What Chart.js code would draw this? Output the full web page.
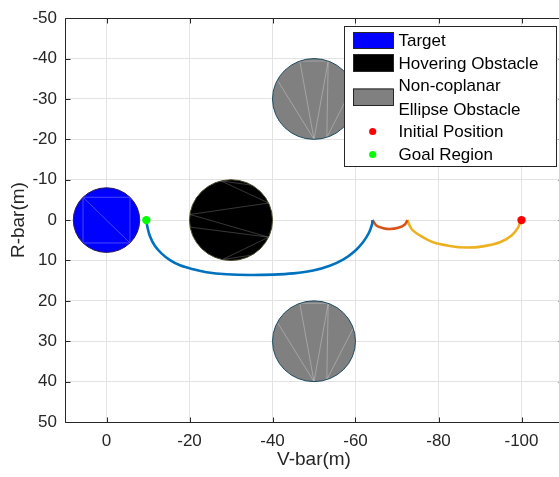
<!DOCTYPE html>
<html><head><meta charset="utf-8">
<script src="https://cdn.jsdelivr.net/npm/chart.js@4.4.0/dist/chart.umd.min.js"></script>
<style>
html,body{margin:0;padding:0;overflow:hidden;background:#fff;width:559px;height:477px}
canvas{display:block}
</style></head>
<body><canvas id="c" width="570" height="477"></canvas>
<script>
// ---------- data ----------
const xTicks = [0, -20, -40, -60, -80, -100];
const yTicks = [-50, -40, -30, -20, -10, 0, 10, 20, 30, 40, 50];

const obstacleNames = ['Target', 'Hovering Obstacle', 'Non-coplanar Ellipse Obstacle', 'Non-coplanar Ellipse Obstacle'];
const obstacleX = [0, -30, -50, -50];
const obstacleY = [0, 0, -30, 30];
const obstacleR = [8, 10, 10, 10];

const leg1X = [-9.6, -9.8, -10.4, -11.6, -13.3, -15.3, -17.7, -20.9, -24.1, -28.9, -34.5, -40.1, -45.0, -49.8, -53.8, -57.0, -59.8, -61.8, -63.3, -64.0, -64.1];
const leg1Y = [0.0, 1.4, 3.8, 6.3, 8.3, 9.9, 11.2, 12.2, 12.9, 13.4, 13.6, 13.5, 13.2, 12.5, 11.3, 9.8, 7.7, 5.5, 3.0, 1.0, 0.0];

const leg2X = [-64.1, -65.1, -66.7, -68.3, -70.3, -71.9, -72.5];
const leg2Y = [0.0, 1.4, 2.0, 2.2, 1.9, 1.1, 0.0];

const leg3X = [-72.5, -73.5, -75.5, -78.7, -82.7, -86.7, -90.7, -94.8, -97.6, -99.2, -99.8];
const leg3Y = [0.0, 2.2, 3.8, 5.5, 6.4, 6.8, 6.5, 5.5, 3.8, 1.8, 0.0];

const initialPos = [-100, 0];
const goalPos = [-9.6, 0];

const legendLabels = ['Target', 'Hovering Obstacle', ['Non-coplanar', 'Ellipse Obstacle'], 'Initial Position', 'Goal Region'];

// ---------- styles ----------
const FONT = '"Liberation Sans", Arial, Helvetica, sans-serif';
const TXT = '#262626';
const obsStyle = [
  {fill: '#0000ff', edge: '#2a1a5a', mesh: 'rgba(200,200,255,0.45)', chords: [[135,45],[45,315],[315,225],[225,135],[135,315]]},
  {fill: '#000000', edge: '#4a4a2a', mesh: 'rgba(200,200,200,0.35)', chords: [[104,25],[25,172],[172,335],[190,335],[335,258],[258,300],[104,60]]},
  {fill: '#808080', edge: '#1f4a60', mesh: 'rgba(230,230,230,0.45)', chords: [[110,70],[110,270],[70,270],[152,270],[70,288],[19,288]]},
  {fill: '#808080', edge: '#1f4a60', mesh: 'rgba(230,230,230,0.45)', chords: [[110,70],[110,270],[70,270],[152,270],[70,288],[19,288]]}
];

const toPts = (xs, ys) => xs.map((v, i) => ({x: v, y: ys[i]}));

const obstaclePlugin = {
  id: 'obstacles',
  beforeDatasetsDraw(chart) {
    const {ctx, scales: {x, y}, chartArea: a} = chart;
    ctx.save();
    ctx.beginPath(); ctx.rect(a.left, a.top, a.right - a.left, a.bottom - a.top); ctx.clip();
    for (let i = 0; i < obstacleX.length; i++) {
      const s = obsStyle[i];
      const cx = x.getPixelForValue(obstacleX[i]);
      const cy = y.getPixelForValue(obstacleY[i]);
      const rx = Math.abs(x.getPixelForValue(obstacleX[i] + obstacleR[i]) - cx);
      const ry = Math.abs(y.getPixelForValue(obstacleY[i] + obstacleR[i]) - cy);
      ctx.beginPath(); ctx.ellipse(cx, cy, rx, ry, 0, 0, Math.PI * 2);
      ctx.fillStyle = s.fill; ctx.fill();
      ctx.strokeStyle = s.mesh; ctx.lineWidth = 0.8;
      s.chords.forEach(([a1, a2]) => {
        const t1 = a1 * Math.PI / 180, t2 = a2 * Math.PI / 180;
        ctx.beginPath();
        ctx.moveTo(cx + rx * Math.cos(t1), cy - ry * Math.sin(t1));
        ctx.lineTo(cx + rx * Math.cos(t2), cy - ry * Math.sin(t2));
        ctx.stroke();
      });
      ctx.beginPath(); ctx.ellipse(cx, cy, rx, ry, 0, 0, Math.PI * 2);
      ctx.strokeStyle = s.edge; ctx.lineWidth = 1; ctx.stroke();
    }
    ctx.restore();
  }
};

const framePlugin = {
  id: 'frame',
  afterDraw(chart) {
    const {ctx, scales: {x, y}, chartArea: a} = chart;
    const L = Math.round(a.left) + 0.5, R = Math.round(a.right) + 0.5;
    const T = Math.round(a.top) + 0.5, B = Math.round(a.bottom) + 0.5;
    ctx.save();
    ctx.strokeStyle = TXT; ctx.lineWidth = 1;
    ctx.beginPath(); ctx.rect(L, T, R - L, B - T); ctx.stroke();
    const tl = 5;
    ctx.beginPath();
    xTicks.forEach(v => {
      const px = Math.round(x.getPixelForValue(v)) + 0.5;
      ctx.moveTo(px, B); ctx.lineTo(px, B - tl);
      ctx.moveTo(px, T); ctx.lineTo(px, T + tl);
    });
    yTicks.forEach(v => {
      const py = Math.round(y.getPixelForValue(v)) + 0.5;
      ctx.moveTo(L, py); ctx.lineTo(L + tl, py);
      ctx.moveTo(R, py); ctx.lineTo(R - tl, py);
    });
    ctx.stroke();

    // legend
    const lx = 344.5, ly = 26.5, lw = 212, lh = 140;
    ctx.fillStyle = '#ffffff';
    ctx.fillRect(lx, ly, lw, lh);
    ctx.strokeStyle = TXT; ctx.strokeRect(lx, ly, lw, lh);
    const patchX = 353, patchW = 40, textX = 398.5;
    const rows = [
      {type: 'patch', i: 0, y0: 32, y1: 48, ty: [40.5]},
      {type: 'patch', i: 1, y0: 54, y1: 71, ty: [63]},
      {type: 'patch', i: 2, y0: 88.5, y1: 105, ty: [85.5, 109]},
      {type: 'dot', color: '#ff0000', cy: 131.5, ty: [131.5]},
      {type: 'dot', color: '#00ff00', cy: 154.5, ty: [154.5]}
    ];
    ctx.font = '17px ' + FONT;
    ctx.textBaseline = 'middle'; ctx.textAlign = 'left';
    rows.forEach((r, k) => {
      if (r.type === 'patch') {
        ctx.fillStyle = obsStyle[r.i].fill;
        ctx.fillRect(patchX, r.y0, patchW, r.y1 - r.y0);
        ctx.strokeStyle = '#262626';
        ctx.strokeRect(patchX + 0.5, r.y0 + 0.5, patchW, r.y1 - r.y0);
      } else {
        ctx.fillStyle = r.color;
        ctx.beginPath(); ctx.arc(372.7, r.cy, 3.6, 0, Math.PI * 2); ctx.fill();
      }
      const lab = legendLabels[k];
      const lines = Array.isArray(lab) ? lab : [lab];
      ctx.fillStyle = '#000000';
      lines.forEach((t, j) => ctx.fillText(t, textX, r.ty[j] + 1));
    });
    ctx.restore();
  }
};

new Chart(document.getElementById('c'), {
  type: 'scatter',
  data: {
    datasets: [
      {label: 'Initial Position', data: [{x: initialPos[0], y: initialPos[1]}], pointRadius: 4.2, pointBackgroundColor: '#ff0000', pointBorderWidth: 0, showLine: false},
      {label: 'Goal Region', data: [{x: goalPos[0], y: goalPos[1]}], pointRadius: 4.2, pointBackgroundColor: '#00ff00', pointBorderWidth: 0, showLine: false},
      {label: 'leg1', data: toPts(leg1X, leg1Y), showLine: true, borderColor: '#0072BD', borderWidth: 2.6, pointRadius: 0, tension: 0.35},
      {label: 'leg2', data: toPts(leg2X, leg2Y), showLine: true, borderColor: '#D95319', borderWidth: 2.6, pointRadius: 0, tension: 0.35},
      {label: 'leg3', data: toPts(leg3X, leg3Y), showLine: true, borderColor: '#EDB120', borderWidth: 2.6, pointRadius: 0, tension: 0.35}
    ]
  },
  options: {
    responsive: false,
    animation: false,
    devicePixelRatio: 1,
    layout: {padding: {left: 0, top: 13, right: 7, bottom: 0}, autoPadding: false},
    plugins: {legend: {display: false}, tooltip: {enabled: false}},
    scales: {
      x: {
        type: 'linear', min: -110, max: 10, reverse: true,
        afterBuildTicks: s => { s.ticks = xTicks.map(v => ({value: v})); },
        afterFit: s => { s.height = 55; },
        grid: {color: '#e3e3e3', drawTicks: false},
        border: {display: false},
        ticks: {color: TXT, font: {family: FONT, size: 17}, padding: 9, maxRotation: 0, callback: v => String(v)},
        title: {display: true, text: 'V-bar(m)', color: TXT, font: {family: FONT, size: 19}, padding: {top: 0, bottom: 6}}
      },
      y: {
        type: 'linear', min: -50, max: 50, reverse: true,
        afterBuildTicks: s => { s.ticks = yTicks.map(v => ({value: v})); },
        afterFit: s => { s.width = 65; },
        grid: {color: '#e3e3e3', drawTicks: false},
        border: {display: false},
        ticks: {color: TXT, font: {family: FONT, size: 17}, padding: 8, callback: v => String(v)},
        title: {display: true, text: 'R-bar(m)', color: TXT, font: {family: FONT, size: 19}, padding: {top: 7, bottom: 0}}
      }
    }
  },
  plugins: [obstaclePlugin, framePlugin]
});
</script>
</body></html>
